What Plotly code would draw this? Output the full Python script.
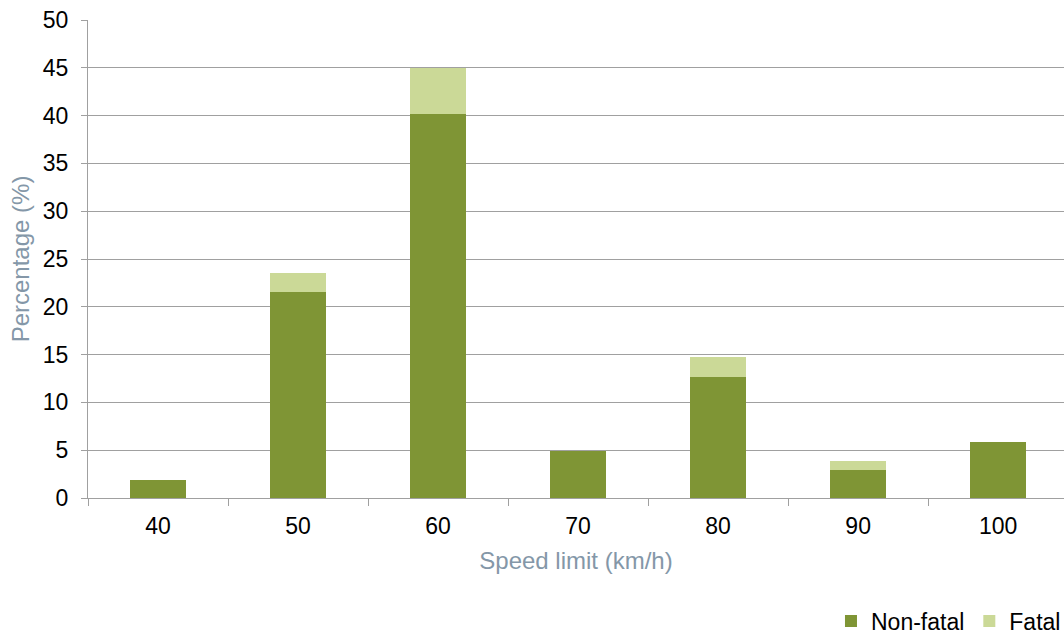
import plotly.graph_objects as go

speed_limits = ["40", "50", "60", "70", "80", "90", "100"]
non_fatal = [1.9, 21.5, 40.2, 4.9, 12.7, 2.9, 5.9]
fatal = [0.0, 2.0, 4.8, 0.0, 2.0, 1.0, 0.0]

font_family = "Liberation Sans, Arial, sans-serif"
FS = 23
TS = 24

fig = go.Figure()
fig.add_trace(go.Bar(x=speed_limits, y=non_fatal, name="Non-fatal",
                     marker=dict(color="#7F9535", line=dict(width=0)), width=0.4))
fig.add_trace(go.Bar(x=speed_limits, y=fatal, name="Fatal",
                     marker=dict(color="#CBD997", line=dict(width=0)), width=0.4))

fig.update_layout(
    barmode="stack",
    width=1064, height=637,
    margin=dict(l=88, r=0, t=20, b=139, autoexpand=False),
    paper_bgcolor="white", plot_bgcolor="white",
    font=dict(family=font_family, size=FS, color="#000000"),
    showlegend=True,
    legend=dict(orientation="h", xref="container", yref="container",
                x=0.781, xanchor="left", y=0.025, yanchor="middle",
                font=dict(size=FS, color="#000000"), itemwidth=30, traceorder="normal",
                bgcolor="rgba(0,0,0,0)"),
    xaxis=dict(
        type="category", range=[-0.5, 6.47],
        tickson="boundaries", ticks="outside", ticklen=7, tickcolor="#A0A0A0",
        showline=True, linecolor="#A0A0A0", linewidth=1,
        showgrid=False, automargin=False, ticklabelstandoff=7,
        tickfont=dict(size=FS, color="#000000"),
        title=dict(text="Speed limit (km/h)", font=dict(size=TS, color="#8497A8"), standoff=14),
    ),
    yaxis=dict(
        range=[0, 50], dtick=5, tick0=0,
        ticks="outside", ticklen=6, tickcolor="#A0A0A0",
        showline=True, linecolor="#A0A0A0", linewidth=1,
        showgrid=True, gridcolor="#A0A0A0", gridwidth=1,
        zeroline=False, automargin=False, ticklabelstandoff=8,
        tickfont=dict(size=FS, color="#000000"),
        title=dict(text="Percentage (%)", font=dict(size=TS, color="#8497A8"), standoff=6),
    ),
)

fig.write_html("out.html", config={"displayModeBar": False},
               post_script="document.body.style.margin='0';document.body.style.overflow='hidden';")
